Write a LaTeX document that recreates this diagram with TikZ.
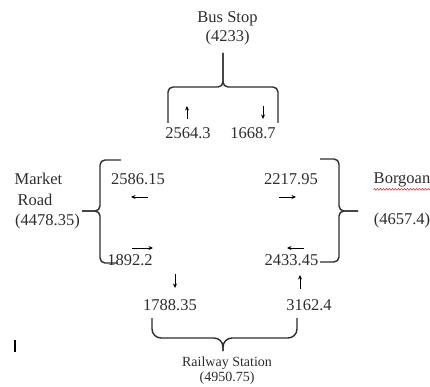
\documentclass[tikz,border=0pt]{standalone}
\usepackage{fontspec}
\setmainfont{Liberation Serif}
\usetikzlibrary{arrows.meta,decorations.pathmorphing}
\definecolor{ink}{RGB}{45,45,45}
\tikzset{
  lbl/.style={inner sep=0pt, text=ink, font=\fontsize{16.5}{18}\selectfont},
  small/.style={inner sep=0pt, text=ink, font=\fontsize{14}{16}\selectfont},
  brace/.style={draw=ink, line width=1.4pt, rounded corners=5pt},
  flow/.style={draw=black, line width=1pt, -{Stealth[length=4.5pt,width=4pt]}}
}
\begin{document}
\begin{tikzpicture}[x=1pt,y=-1pt]
\useasboundingbox (0,0) rectangle (430,387);
% labels
\node[lbl] (bus) at (227.5,19) {Bus Stop};
\node[lbl] (busv) at (227.5,38) {(4233)};
\node[lbl] (a1) at (188,133) {2564.3};
\node[lbl] (a2) at (253,133) {1668.7};
\node[lbl] (mkt) at (38.5,179) {Market};
\node[lbl] (road) at (35,200) {Road};
\node[lbl] (mktv) at (47.5,222) {(4478.35)};
\node[lbl] (b1) at (138,179) {2586.15};
\node[lbl] (b2) at (130,260) {1892.2};
\node[lbl] (c1) at (291,179) {2217.95};
\node[lbl] (c2) at (291.5,260) {2433.45};
\node[lbl] (bor) at (402,180) {Borgoan};
\node[lbl] (borv) at (402,221) {(4657.4)};
\node[lbl] (d1) at (170,305) {1788.35};
\node[lbl] (d2) at (309,305) {3162.4};
\node[small] (rail) at (227,363) {Railway Station};
\node[small] (railv) at (227,378) {(4950.75)};
% spell-check underline
\draw[red, line width=0.5pt, decorate, decoration={snake, amplitude=0.8pt, segment length=3pt}]
  ([yshift=-2pt]bor.south west) -- ([yshift=-2pt]bor.south east);
% brace coordinates
\coordinate (tl) at (168,123); \coordinate (tr) at (278,123); \coordinate (tt) at (223,53);
\coordinate (ll1) at (121,160); \coordinate (ll2) at (118,263); \coordinate (lt) at (82,211);
\coordinate (rr1) at (320,159); \coordinate (rr2) at (320,262); \coordinate (rt) at (358,211);
\coordinate (bl) at (152,318); \coordinate (br) at (297,318); \coordinate (bt) at (223,351);
% braces
\draw[brace] (tl) |- (223,87) -- (tt);
\draw[brace] (tr) |- (223,87) -- (tt);
\draw[brace] (ll1) -| (100,211) -- (lt);
\draw[brace] (ll2) -| (100,211) -- (lt);
\draw[brace] (rr1) -| (339,211) -- (rt);
\draw[brace] (rr2) -| (339,211) -- (rt);
\draw[brace, rounded corners=9pt] (bl) |- (223,338) -- (bt);
\draw[brace, rounded corners=9pt] (br) |- (223,338) -- (bt);
% flow arrows
\coordinate (f1s) at (187,119); \coordinate (f1e) at (187,106);
\coordinate (f2s) at (263,106); \coordinate (f2e) at (263,119);
\coordinate (f3s) at (148,197); \coordinate (f3e) at (131,197);
\coordinate (f4s) at (132,248); \coordinate (f4e) at (153,248);
\coordinate (f5s) at (279,197); \coordinate (f5e) at (296,197);
\coordinate (f6s) at (304,248); \coordinate (f6e) at (287,248);
\coordinate (f7s) at (175,274); \coordinate (f7e) at (175,288);
\coordinate (f8s) at (300,289); \coordinate (f8e) at (300,275);
\draw[flow] (f1s) -- (f1e);
\draw[flow] (f2s) -- (f2e);
\draw[flow] (f3s) -- (f3e);
\draw[flow] (f4s) -- (f4e);
\draw[flow] (f5s) -- (f5e);
\draw[flow] (f6s) -- (f6e);
\draw[flow] (f7s) -- (f7e);
\draw[flow] (f8s) -- (f8e);
% cursor bar
\draw[black, line width=1.8pt] (15,340) -- (15,352);
\end{tikzpicture}
\end{document}
